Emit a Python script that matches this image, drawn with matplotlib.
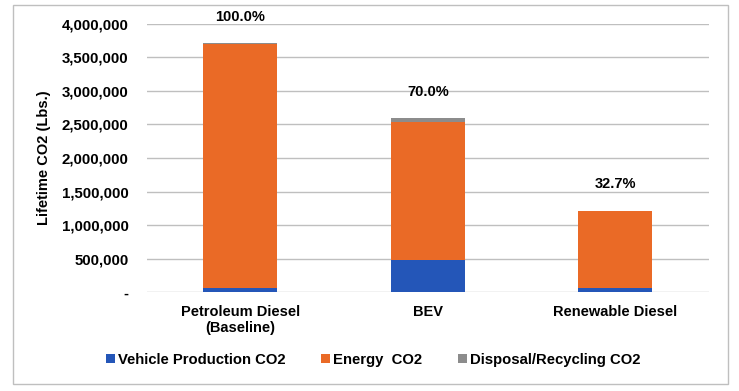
#!/usr/bin/env python3
# -*- coding: utf-8 -*-
"""
Lifetime CO2 stacked bar chart (Petroleum Diesel vs BEV vs Renewable Diesel)
"""

import matplotlib.pyplot as plt
from matplotlib.patches import Rectangle
from matplotlib.ticker import FuncFormatter

plt.rcParams['font.family'] = ['Liberation Sans', 'DejaVu Sans']
plt.rcParams['font.weight'] = 'bold'

categories = ['Petroleum Diesel\n(Baseline)', 'BEV', 'Renewable Diesel']
production = [70000, 481000, 68000]
energy = [3630000, 2060000, 1140000]
disposal = [8000, 50000, 7000]
pct_labels = ['100.0%', '70.0%', '32.7%']

series_names = ['Vehicle Production CO2', 'Energy  CO2', 'Disposal/Recycling CO2']
colors = ['#2456B8', '#EA6A26', '#8C8C8C']


def fmt_y(v, pos):
    if v == 0:
        return '-'
    return f'{int(v):,}'


def main():
    fig = plt.figure(figsize=(7.39, 3.91), dpi=100)
    ax = fig.add_axes([146.7 / 739, 1 - 292.3 / 391, 562.3 / 739, 268.6 / 391])

    # outer chart frame
    fig.patches.append(Rectangle((12.5 / 739, 1 - 384 / 391), 715 / 739, 379 / 391,
                                 transform=fig.transFigure, fill=False,
                                 edgecolor='#BFBFBF', linewidth=1.0))

    x = list(range(len(categories)))
    bottoms2 = [p + e for p, e in zip(production, energy)]
    w = 0.395
    ax.bar(x, production, w, color=colors[0], label=series_names[0], zorder=3)
    ax.bar(x, energy, w, bottom=production, color=colors[1], label=series_names[1], zorder=3)
    ax.bar(x, disposal, w, bottom=bottoms2, color=colors[2], label=series_names[2], zorder=3)

    totals = [b + d for b, d in zip(bottoms2, disposal)]
    for xi, t, lab in zip(x, totals, pct_labels):
        ax.annotate(lab, (xi, t), xytext=(0, 19), textcoords='offset points',
                    ha='center', va='center', fontsize=10.5, fontweight='bold')

    ax.set_xlim(-0.5, 2.5)
    ax.set_ylim(0, 4000000)
    ax.set_yticks(range(0, 4000001, 500000))
    ax.yaxis.set_major_formatter(FuncFormatter(fmt_y))
    ax.set_xticks(x)
    ax.set_xticklabels(categories, fontsize=10.5, fontweight='bold')
    ax.tick_params(axis='y', labelsize=10.8, length=0, pad=13)
    ax.tick_params(axis='x', length=0, pad=9)

    ax.grid(axis='y', color='#BFBFBF', linewidth=1.0, zorder=0)
    for s in ax.spines.values():
        s.set_visible(False)

    ax.set_ylabel('Lifetime CO2 (Lbs.)', fontsize=10.5, fontweight='bold', labelpad=8)

    fig.legend(loc='center', bbox_to_anchor=(373 / 739, 1 - 360 / 391), ncol=3,
               frameon=False, fontsize=10.7, handlelength=0.6, handleheight=0.6,
               handletextpad=0.2, columnspacing=2.4)

    fig.savefig('out.png', dpi=100)


if __name__ == '__main__':
    main()
